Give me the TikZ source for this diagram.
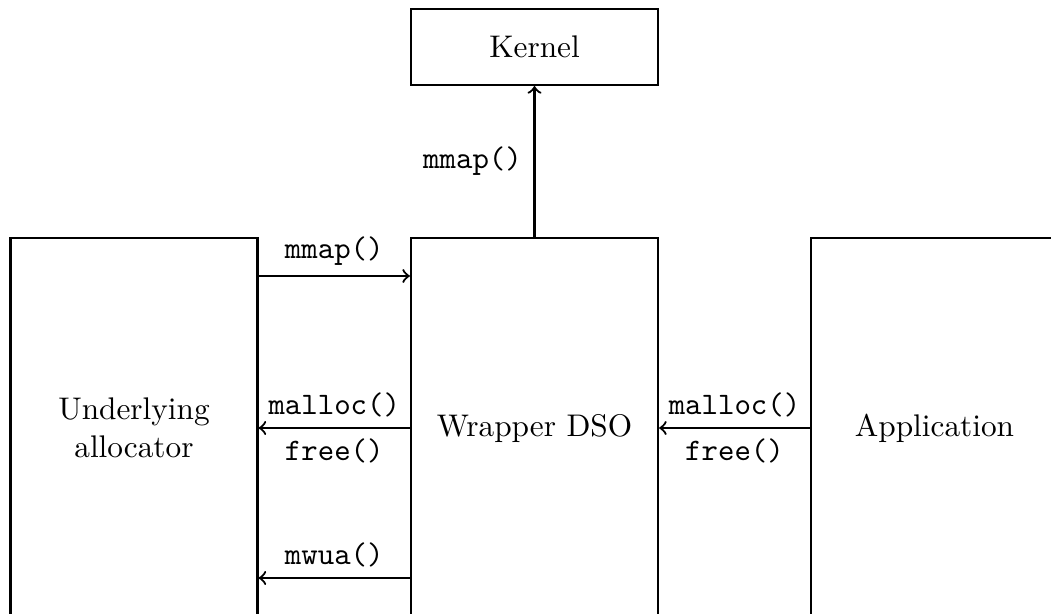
\documentclass[tikz,border=0pt]{standalone}
\usetikzlibrary{positioning}
\tikzset{
  blk/.style={draw, line width=0.7pt, inner sep=0pt},
  call/.style={->, line width=0.7pt},
  fn/.style={font=\ttfamily, inner sep=3pt}
}
\begin{document}
\begin{tikzpicture}[x=0.3195pt, y=-0.3195pt]
  \useasboundingbox (0,0) rectangle (1051,614);
  \clip (0,0) rectangle (1051,614);
  % boxes
  \node[blk, minimum width=247*0.3195pt, minimum height=76*0.3195pt] (kern) at (534.5,47) {Kernel};
  \node[blk, minimum width=247*0.3195pt, minimum height=380*0.3195pt, align=center] (ua) at (134,428) {Underlying\\allocator};
  \node[blk, minimum width=247*0.3195pt, minimum height=380*0.3195pt] (wrap) at (534.5,428) {Wrapper DSO};
  \node[blk, minimum width=247*0.3195pt, minimum height=380*0.3195pt] (app) at (934.5,428) {Application};
  % calls
  \draw[call] (wrap.north) -- node[fn, inner sep=2pt, left=1.7pt] {mmap()} (kern.south);
  \coordinate (m1) at (ua.east |- 0,276);
  \coordinate (m2) at (wrap.west |- 0,276);
  \draw[call] (m1) -- node[fn, above] {mmap()} (m2);
  \draw[call] (wrap.west) -- node[fn, above] {malloc()} node[fn, below] {free()} (ua.east);
  \draw[call] (app.west) -- node[fn, above] {malloc()} node[fn, below] {free()} (wrap.east);
  \coordinate (w1) at (wrap.west |- 0,578);
  \coordinate (w2) at (ua.east |- 0,578);
  \draw[call] (w1) -- node[fn, above] {mwua()} (w2);
\end{tikzpicture}
\end{document}
